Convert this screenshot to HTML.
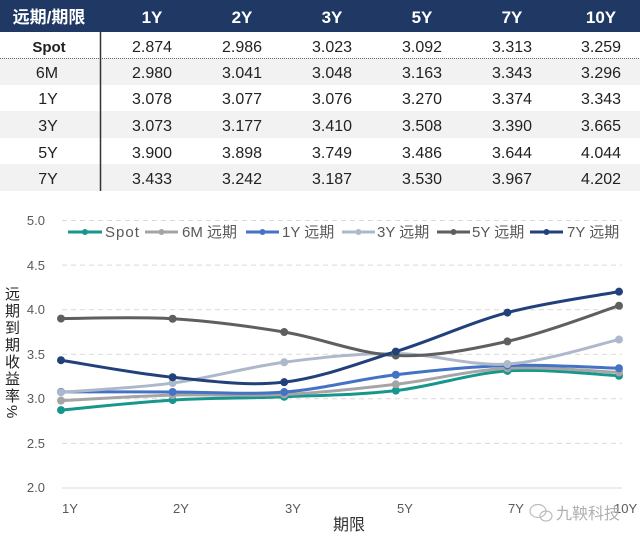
<!DOCTYPE html>
<html><head><meta charset="utf-8">
<style>
html,body{margin:0;padding:0;background:#fff;}
body{width:640px;height:542px;overflow:hidden;position:relative;}
svg{position:absolute;left:0;top:0;}
.ytitle{position:absolute;left:2px;top:286px;width:18px;writing-mode:vertical-rl;font-family:"Liberation Sans","Noto Sans CJK SC",sans-serif;font-size:15px;letter-spacing:2px;color:#222;line-height:18px;}
</style></head>
<body>
<svg width="640" height="542" viewBox="0 0 640 542" xmlns="http://www.w3.org/2000/svg" font-family="Liberation Sans, Noto Sans CJK SC, sans-serif">
  <!-- table -->
  <rect x="0" y="0" width="640" height="32" fill="#1f3864"/>
  <rect x="0" y="58" width="640" height="27" fill="#f2f2f2"/>
  <rect x="0" y="111" width="640" height="27" fill="#f2f2f2"/>
  <rect x="0" y="164" width="640" height="27" fill="#f2f2f2"/>
  <line x1="0" y1="58.5" x2="640" y2="58.5" stroke="#666" stroke-width="1" stroke-dasharray="1,1"/>
  <line x1="100.5" y1="32" x2="100.5" y2="191" stroke="#333" stroke-width="1.5"/>
  <g fill="#fff" font-weight="bold" font-size="17" text-anchor="middle">
    <text x="49" y="23">远期/期限</text>
    <text x="152" y="23">1Y</text>
    <text x="242" y="23">2Y</text>
    <text x="332" y="23">3Y</text>
    <text x="422" y="23">5Y</text>
    <text x="512" y="23">7Y</text>
    <text x="601" y="23">10Y</text>
  </g>
  <g fill="#222" font-size="16" text-anchor="middle">
    <text x="49" y="52" font-weight="bold" font-size="15">Spot</text>
    <text x="152" y="52">2.874</text><text x="242" y="52">2.986</text><text x="332" y="52">3.023</text><text x="422" y="52">3.092</text><text x="512" y="52">3.313</text><text x="601" y="52">3.259</text>
    <text x="47" y="78">6M</text>
    <text x="152" y="78">2.980</text><text x="242" y="78">3.041</text><text x="332" y="78">3.048</text><text x="422" y="78">3.163</text><text x="512" y="78">3.343</text><text x="601" y="78">3.296</text>
    <text x="48" y="104">1Y</text>
    <text x="152" y="104">3.078</text><text x="242" y="104">3.077</text><text x="332" y="104">3.076</text><text x="422" y="104">3.270</text><text x="512" y="104">3.374</text><text x="601" y="104">3.343</text>
    <text x="48" y="131">3Y</text>
    <text x="152" y="131">3.073</text><text x="242" y="131">3.177</text><text x="332" y="131">3.410</text><text x="422" y="131">3.508</text><text x="512" y="131">3.390</text><text x="601" y="131">3.665</text>
    <text x="48" y="158">5Y</text>
    <text x="152" y="158">3.900</text><text x="242" y="158">3.898</text><text x="332" y="158">3.749</text><text x="422" y="158">3.486</text><text x="512" y="158">3.644</text><text x="601" y="158">4.044</text>
    <text x="48" y="184">7Y</text>
    <text x="152" y="184">3.433</text><text x="242" y="184">3.242</text><text x="332" y="184">3.187</text><text x="422" y="184">3.530</text><text x="512" y="184">3.967</text><text x="601" y="184">4.202</text>
  </g>

  <!-- grid -->
  <g stroke="#d9d9d9" stroke-width="1" stroke-dasharray="5,4">
    <line x1="62" y1="220.5" x2="622" y2="220.5"/>
    <line x1="62" y1="265.1" x2="622" y2="265.1"/>
    <line x1="62" y1="309.7" x2="622" y2="309.7"/>
    <line x1="62" y1="354.2" x2="622" y2="354.2"/>
    <line x1="62" y1="398.8" x2="622" y2="398.8"/>
    <line x1="62" y1="443.4" x2="622" y2="443.4"/>
  </g>
  <line x1="62" y1="488" x2="622" y2="488" stroke="#d9d9d9" stroke-width="1"/>

  <g fill="#595959" font-size="13" text-anchor="end">
    <text x="45" y="225">5.0</text>
    <text x="45" y="270">4.5</text>
    <text x="45" y="314">4.0</text>
    <text x="45" y="359">3.5</text>
    <text x="45" y="403">3.0</text>
    <text x="45" y="448">2.5</text>
    <text x="45" y="492">2.0</text>
  </g>
  <g fill="#595959" font-size="13">
    <text x="62" y="513">1Y</text>
    <text x="173" y="513">2Y</text>
    <text x="285" y="513">3Y</text>
    <text x="397" y="513">5Y</text>
    <text x="508" y="513">7Y</text>
    <text x="614" y="513">10Y</text>
  </g>
  <text x="333" y="530" font-size="16" fill="#333">期限</text>

  <!-- series -->
  <g fill="none" stroke-width="3" stroke-linecap="round">
    <path stroke="#17968d" d="M61,410.07 C79.6,408.41 135.4,402.30 172.6,400.08 C209.8,397.87 247,398.36 284.2,396.78 C321.4,395.21 358.6,394.94 395.8,390.63 C433,386.32 470.2,373.40 507.4,370.92 C544.6,368.44 600.4,374.94 619,375.74"/>
    <path stroke="#a5a5a5" d="M61,400.61 C79.6,399.70 135.4,396.18 172.6,395.17 C209.8,394.16 247,396.36 284.2,394.55 C321.4,392.74 358.6,388.68 395.8,384.30 C433,379.92 470.2,370.23 507.4,368.25 C544.6,366.27 600.4,371.74 619,372.44"/>
    <path stroke="#4472c4" d="M61,391.87 C79.6,391.89 135.4,391.93 172.6,391.96 C209.8,391.99 247,394.92 284.2,392.05 C321.4,389.18 358.6,379.18 395.8,374.75 C433,370.32 470.2,366.56 507.4,365.48 C544.6,364.40 600.4,367.79 619,368.25"/>
    <path stroke="#adb9ca" d="M61,392.32 C79.6,390.78 135.4,388.06 172.6,383.05 C209.8,378.04 247,367.19 284.2,362.27 C321.4,357.35 358.6,353.23 395.8,353.53 C433,353.83 470.2,366.38 507.4,364.05 C544.6,361.72 600.4,343.62 619,339.53"/>
    <path stroke="#5f5f5f" d="M61,318.58 C79.6,318.61 135.4,316.52 172.6,318.76 C209.8,321.00 247,325.92 284.2,332.04 C321.4,338.16 358.6,353.93 395.8,355.49 C433,357.05 470.2,349.69 507.4,341.40 C544.6,333.11 600.4,311.68 619,305.74"/>
    <path stroke="#22407a" d="M61,360.22 C79.6,363.06 135.4,373.59 172.6,377.25 C209.8,380.91 247,386.44 284.2,382.16 C321.4,377.88 358.6,363.16 395.8,351.57 C433,339.98 470.2,322.59 507.4,312.60 C544.6,302.61 600.4,295.14 619,291.65"/>
  </g>
  <g fill="#17968d">
    <circle cx="61" cy="410.07" r="4"/><circle cx="172.6" cy="400.08" r="4"/><circle cx="284.2" cy="396.78" r="4"/><circle cx="395.8" cy="390.63" r="4"/><circle cx="507.4" cy="370.92" r="4"/><circle cx="619" cy="375.74" r="4"/>
  </g>
  <g fill="#a5a5a5">
    <circle cx="61" cy="400.61" r="4"/><circle cx="172.6" cy="395.17" r="4"/><circle cx="284.2" cy="394.55" r="4"/><circle cx="395.8" cy="384.30" r="4"/><circle cx="507.4" cy="368.25" r="4"/><circle cx="619" cy="372.44" r="4"/>
  </g>
  <g fill="#4472c4">
    <circle cx="61" cy="391.87" r="4"/><circle cx="172.6" cy="391.96" r="4"/><circle cx="284.2" cy="392.05" r="4"/><circle cx="395.8" cy="374.75" r="4"/><circle cx="507.4" cy="365.48" r="4"/><circle cx="619" cy="368.25" r="4"/>
  </g>
  <g fill="#adb9ca">
    <circle cx="61" cy="392.32" r="4"/><circle cx="172.6" cy="383.05" r="4"/><circle cx="284.2" cy="362.27" r="4"/><circle cx="395.8" cy="353.53" r="4"/><circle cx="507.4" cy="364.05" r="4"/><circle cx="619" cy="339.53" r="4"/>
  </g>
  <g fill="#5f5f5f">
    <circle cx="61" cy="318.58" r="4"/><circle cx="172.6" cy="318.76" r="4"/><circle cx="284.2" cy="332.04" r="4"/><circle cx="395.8" cy="355.49" r="4"/><circle cx="507.4" cy="341.40" r="4"/><circle cx="619" cy="305.74" r="4"/>
  </g>
  <g fill="#22407a">
    <circle cx="61" cy="360.22" r="4"/><circle cx="172.6" cy="377.25" r="4"/><circle cx="284.2" cy="382.16" r="4"/><circle cx="395.8" cy="351.57" r="4"/><circle cx="507.4" cy="312.60" r="4"/><circle cx="619" cy="291.65" r="4"/>
  </g>

  <!-- legend -->
  <g stroke-width="3">
    <line x1="68" y1="232" x2="102" y2="232" stroke="#17968d"/>
    <line x1="145" y1="232" x2="178" y2="232" stroke="#a5a5a5"/>
    <line x1="246" y1="232" x2="279" y2="232" stroke="#4472c4"/>
    <line x1="342" y1="232" x2="375" y2="232" stroke="#adb9ca"/>
    <line x1="437" y1="232" x2="470" y2="232" stroke="#5f5f5f"/>
    <line x1="530" y1="232" x2="563" y2="232" stroke="#22407a"/>
  </g>
  <circle cx="85" cy="232" r="3" fill="#17968d"/>
  <circle cx="161.5" cy="232" r="3" fill="#a5a5a5"/>
  <circle cx="262.5" cy="232" r="3" fill="#4472c4"/>
  <circle cx="358.5" cy="232" r="3" fill="#adb9ca"/>
  <circle cx="453.5" cy="232" r="3" fill="#5f5f5f"/>
  <circle cx="546.5" cy="232" r="3" fill="#22407a"/>
  <g fill="#595959" font-size="15">
    <text x="105" y="237" letter-spacing="1">Spot</text>
    <text x="182" y="237">6M 远期</text>
    <text x="282" y="237">1Y 远期</text>
    <text x="377" y="237">3Y 远期</text>
    <text x="472" y="237">5Y 远期</text>
    <text x="567" y="237">7Y 远期</text>
  </g>

  <!-- watermark -->
  <g fill="none" stroke="#bdbdbd" stroke-width="1.2">
    <ellipse cx="538" cy="511" rx="8" ry="6.5"/>
    <ellipse cx="546" cy="516" rx="6" ry="5"/>
  </g>
  <text x="556" y="519" font-size="16" fill="#b0b0b0">九鞅科技</text>
</svg>
<div class="ytitle">远期到期收益率%</div>
</body></html>
